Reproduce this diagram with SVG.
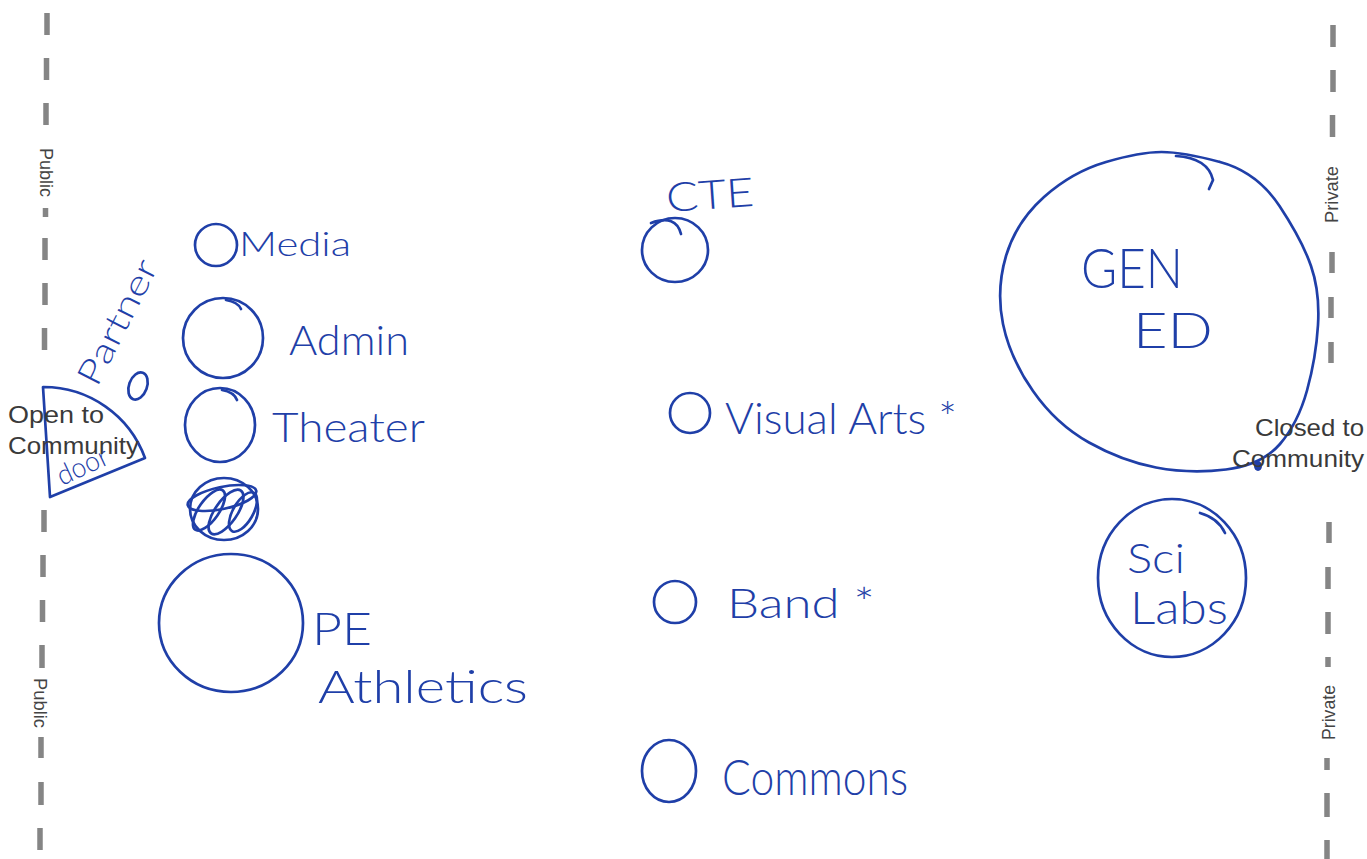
<svg xmlns="http://www.w3.org/2000/svg" width="1367" height="859" viewBox="0 0 1367 859">
<style>
.dash{stroke:#858585;stroke-width:5.5;fill:none}
.lbl{font-family:"Liberation Sans",Arial,sans-serif;fill:#3a3a3a}
.side{font-family:"Liberation Sans",Arial,sans-serif;font-size:19px;fill:#444}
.ink{fill:none;stroke:#1f3fa8;stroke-width:2.7;stroke-linecap:round;stroke-linejoin:round}
.hw{font-family:Lato,"Open Sans","Liberation Sans",sans-serif;font-weight:300;fill:#1f3fa8}
</style>
<rect width="1367" height="859" fill="#ffffff"/>

<g id="left-boundary">
<path class="dash" d="M47,13V35M46.5,58V80M46,103V125M45.5,208V217M45,238V260M45,283V305M44.5,328V350M44,510V532M43,555V577M42.5,600V622M42,645V668M41,737V758M41,782V805M40,828V850"/>
<text class="side" transform="translate(40,148) rotate(90)" textLength="49" lengthAdjust="spacingAndGlyphs">Public</text>
<text class="side" transform="translate(34,678) rotate(90)" textLength="50" lengthAdjust="spacingAndGlyphs">Public</text>
</g>

<g id="right-boundary">
<path class="dash" d="M1333,25V47M1333,70V92M1332.5,115V137M1332,252V273M1331,297V318M1331,342V363M1329,522V543M1328,567V589M1328,612V634M1328,657V667M1327,758V770M1327,793V817M1327,840V859"/>
<text class="side" transform="translate(1338,223) rotate(-90)" textLength="57" lengthAdjust="spacingAndGlyphs">Private</text>
<text class="side" transform="translate(1335,740) rotate(-90)" textLength="55" lengthAdjust="spacingAndGlyphs">Private</text>
</g>

<g id="connectors"></g>

<g id="door">
<path class="ink" d="M50,497 L43,387 A108,108 0 0,1 145,458 Z"/>
<text class="hw" font-size="28" transform="translate(62,486) rotate(-25)" textLength="54" lengthAdjust="spacingAndGlyphs">door</text>
</g>

<g id="open-label">
<text class="lbl" font-size="24" x="8" y="423" textLength="96" lengthAdjust="spacingAndGlyphs">Open to</text>
<text class="lbl" font-size="24" x="8" y="454" textLength="131" lengthAdjust="spacingAndGlyphs">Community</text>
</g>

<g id="partner">
<text class="hw" font-size="34" transform="translate(97,388) rotate(-63)" textLength="136" lengthAdjust="spacingAndGlyphs">Partner</text>
<ellipse class="ink" cx="138" cy="386" rx="9" ry="14" transform="rotate(20 138 386)"/>
</g>

<g id="media">
<circle class="ink" cx="216" cy="245" r="21"/>
<text class="hw" font-size="34" x="239" y="256" textLength="112" lengthAdjust="spacingAndGlyphs">Media</text>
</g>

<g id="admin">
<circle class="ink" cx="223" cy="338" r="40"/>
<path class="ink" d="M226,300 Q238,302 241,309"/>
<text class="hw" font-size="42" x="289" y="355" textLength="120" lengthAdjust="spacingAndGlyphs">Admin</text>
</g>

<g id="theater">
<ellipse class="ink" cx="220" cy="425" rx="35" ry="37"/>
<path class="ink" d="M222,390 Q234,392 237,400"/>
<text class="hw" font-size="42" x="272" y="442" textLength="153" lengthAdjust="spacingAndGlyphs">Theater</text>
</g>

<g id="scribble">
<ellipse class="ink" cx="224" cy="509" rx="34" ry="31"/>
<ellipse class="ink" cx="222" cy="498" rx="35" ry="11" transform="rotate(-12 222 498)"/>
<ellipse class="ink" cx="209" cy="510" rx="10" ry="24" transform="rotate(35 209 510)"/>
<ellipse class="ink" cx="226" cy="512" rx="11" ry="26" transform="rotate(35 226 512)"/>
<ellipse class="ink" cx="243" cy="512" rx="10" ry="22" transform="rotate(30 243 512)"/>
</g>

<g id="pe-athletics">
<ellipse class="ink" cx="231" cy="623" rx="72" ry="69"/>
<text class="hw" font-size="46" x="312" y="645" textLength="60" lengthAdjust="spacingAndGlyphs">PE</text>
<text class="hw" font-size="46" x="318" y="703" textLength="210" lengthAdjust="spacingAndGlyphs">Athletics</text>
</g>

<g id="cte">
<ellipse class="ink" cx="675" cy="250" rx="33" ry="32"/>
<path class="ink" d="M651,223 Q676,214 681,234"/>
<text class="hw" font-size="40" transform="translate(667,212) rotate(-4)" textLength="88" lengthAdjust="spacingAndGlyphs">CTE</text>
</g>

<g id="visual-arts">
<circle class="ink" cx="690" cy="413" r="20"/>
<text class="hw" font-size="44" x="725" y="434" textLength="232" lengthAdjust="spacingAndGlyphs">Visual Arts *</text>
</g>

<g id="band">
<circle class="ink" cx="675" cy="602" r="21"/>
<text class="hw" font-size="42" x="727" y="618" textLength="148" lengthAdjust="spacingAndGlyphs">Band *</text>
</g>

<g id="commons">
<ellipse class="ink" cx="669" cy="771" rx="27" ry="31"/>
<text class="hw" font-size="50" x="722" y="795" textLength="186" lengthAdjust="spacingAndGlyphs">Commons</text>
</g>

<g id="gen-ed">
<path class="ink" d="M1220,162 Q1257,172 1279.5,206 Q1302,240 1311,266 Q1320,292 1318,325 Q1316,358 1307,390.5 Q1298,423 1280,444 Q1262,465 1226,469.5 Q1190,474 1156,467.5 Q1122,461 1089,442.5 Q1056,424 1033,391 Q1010,358 1003,324 Q996,290 1006,256 Q1016,222 1044,197 Q1072,172 1106,162 Q1140,152 1161.5,152 Q1183,152 1220,162"/>
<path class="ink" d="M1176,156 Q1208,158 1213,180 L1209,189"/>
<ellipse cx="1258" cy="466" rx="4" ry="5" fill="#1f3fa8"/>
<text class="hw" font-size="56" x="1081" y="288" textLength="102" lengthAdjust="spacingAndGlyphs">GEN</text>
<text class="hw" font-size="50" x="1133" y="348" textLength="80" lengthAdjust="spacingAndGlyphs">ED</text>
</g>

<g id="closed-label">
<text class="lbl" font-size="24" x="1255" y="436" textLength="109" lengthAdjust="spacingAndGlyphs">Closed to</text>
<text class="lbl" font-size="24" x="1232" y="467" textLength="132" lengthAdjust="spacingAndGlyphs">Community</text>
</g>

<g id="sci-labs">
<ellipse class="ink" cx="1172" cy="578" rx="74" ry="79"/>
<path class="ink" d="M1200,513 Q1218,518 1225,533"/>
<text class="hw" font-size="42" x="1127" y="573" textLength="58" lengthAdjust="spacingAndGlyphs">Sci</text>
<text class="hw" font-size="46" x="1130" y="624" textLength="98" lengthAdjust="spacingAndGlyphs">Labs</text>
</g>
</svg>
